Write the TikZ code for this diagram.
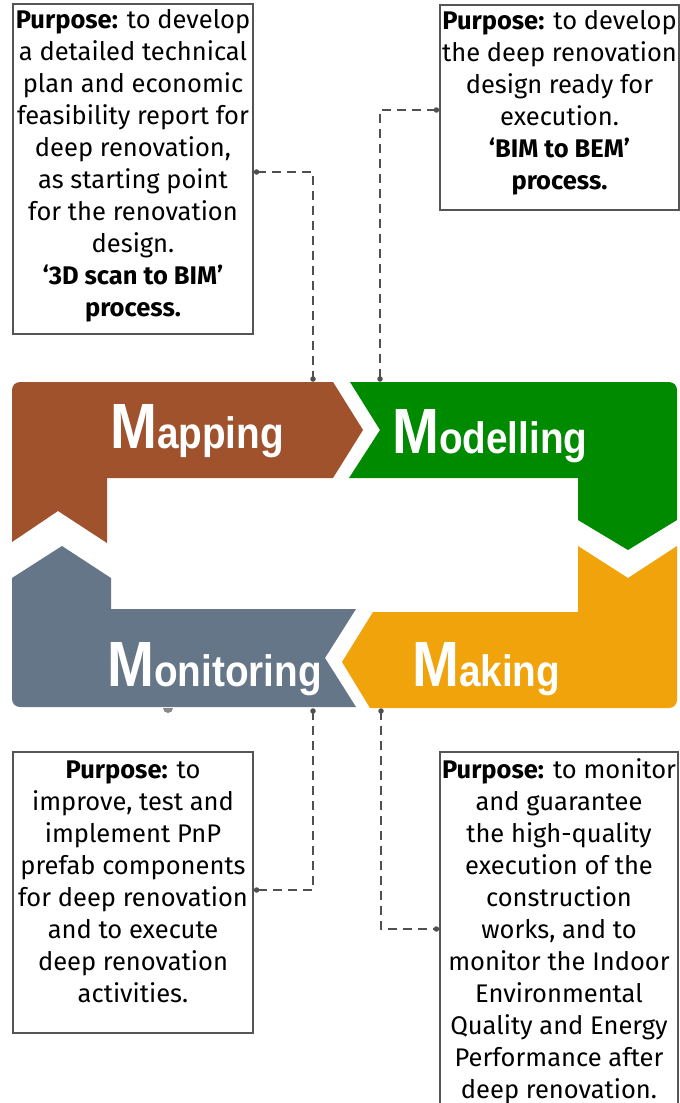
\documentclass[tikz,border=0pt]{standalone}
\usepackage{fontspec}
\newfontfamily\boxfont{Fira Sans}
\newfontfamily\bigfont{Liberation Sans}
\definecolor{mapc}{HTML}{A0522D}
\definecolor{modc}{HTML}{008A00}
\definecolor{makc}{HTML}{F0A30A}
\definecolor{monc}{HTML}{647687}
\definecolor{boxgray}{HTML}{555555}
\definecolor{conngray}{HTML}{505050}
\definecolor{bumpgray}{HTML}{8A8A8A}
\newcommand{\bigword}[2]{\scalebox{0.88}[1]{{\fontsize{64}{64}\selectfont #1}{\fontsize{44}{44}\selectfont #2}}}
\begin{document}
\begin{tikzpicture}[x=1pt,y=-1pt,
  pbox/.style={draw=boxgray, line width=1.2pt, fill=white, inner sep=0pt},
  ptext/.style={font=\boxfont\fontsize{25.5}{32}\selectfont, align=center, inner sep=0pt, text=black},
  conn/.style={draw=conngray, line width=1.2pt, dash pattern=on 9pt off 6pt},
  cdot/.style={circle, fill=conngray, inner sep=0pt, minimum size=5.5pt},
  biglabel/.style={font=\bigfont\bfseries, text=white, inner sep=0pt, anchor=base west}]
\useasboundingbox (0,0) rectangle (680,1103);
\clip (0,0) rectangle (680,1103);

% small grey bumps
\fill[bumpgray] (196,383) arc[start angle=180, end angle=0, radius=4];

% Mapping
\fill[mapc] (12,470) [rounded corners=8pt] -- (12,382) -- (200,382) [sharp corners] -- (333,382) -- (363,430) -- (333,478) -- (107,478) -- (107,543) -- (58,511) -- (12,542) -- cycle;
% Modelling
\fill[modc] (350,382) -- (640,382) [rounded corners=8pt] -- (677,382) -- (677,450) [sharp corners] -- (677,520) -- (628,550) -- (578,520) -- (578,478) -- (349,478) -- (380,430) -- cycle;
% Making
\fill[makc] (578,546) -- (628,578) -- (677,546) -- (677,650) [rounded corners=8pt] -- (677,708) -- (600,708) [sharp corners] -- (370,708) -- (342,662) -- (373,612) -- (578,612) -- cycle;
% Monitoring
\fill[monc] (12,578) -- (62,546) -- (111,578) -- (111,609) -- (356,609) -- (325,658) -- (356,707) -- (100,707) [rounded corners=8pt] -- (12,707) -- (12,650) [sharp corners] -- cycle;

\fill[bumpgray!90!monc] (163,708) arc[start angle=180, end angle=0, radius=5];

\node[biglabel] (lmap) at (110,448) {\bigword{M}{apping}};
\node[biglabel] (lmod) at (392,453) {\bigword{M}{odelling}};
\node[biglabel] (lmon) at (107,686) {\bigword{M}{onitoring}};
\node[biglabel] (lmak) at (412,686) {\bigword{M}{aking}};

% boxes
\node[pbox, minimum width=240pt, minimum height=330pt] (b1) at (133,169) {};
\node[pbox, minimum width=239pt, minimum height=205pt] (b2) at (559.5,107.5) {};
\node[pbox, minimum width=240pt, minimum height=281pt] (b3) at (133,892.5) {};
\node[pbox, minimum width=238pt, minimum height=354pt] (b4) at (559,929) {};

\node[ptext] (t1) at (133,166) {\textbf{Purpose:} to develop\\a detailed technical\\plan and economic\\feasibility report for\\deep renovation,\\as starting point\\for the renovation\\design.\\\textbf{‘3D scan to BIM’}\\\textbf{process.}};
\node[ptext] (t2) at (559.5,103) {\textbf{Purpose:} to develop\\the deep renovation\\design ready for\\execution.\\\textbf{‘BIM to BEM’}\\\textbf{process.}};
\node[ptext] (t3) at (133,882) {\textbf{Purpose:} to\\improve, test and\\implement PnP\\prefab components\\for deep renovation\\and to execute\\deep renovation\\activities.};
\node[ptext] (t4) at (559,931) {\textbf{Purpose:} to monitor\\and guarantee\\the high-quality\\execution of the\\construction\\works, and to\\monitor the Indoor\\Environmental\\Quality and Energy\\Performance after\\deep renovation.};

% anchor coordinates on the shapes
\coordinate (mapIn) at (313,379);
\coordinate (modIn) at (380,379);
\coordinate (monOut) at (313,711);
\coordinate (makOut) at (381,711);

% connectors
\draw[conn] ([shift={(3pt,-3pt)}]b1.east) -| (mapIn);
\draw[conn] ([shift={(-3pt,-2.5pt)}]b2.west) -| (modIn);
\draw[conn] (monOut) |- ([shift={(3pt,2.5pt)}]b3.east);
\draw[conn] (makOut) |- ([shift={(-3pt,0pt)}]b4.west);

\node[cdot] at ([shift={(3pt,-3pt)}]b1.east) {};
\node[cdot] at (mapIn) {};
\node[cdot] at ([shift={(-3pt,-2.5pt)}]b2.west) {};
\node[cdot] at (modIn) {};
\node[cdot] at ([shift={(3pt,2.5pt)}]b3.east) {};
\node[cdot] at (monOut) {};
\node[cdot] at ([shift={(-3pt,0pt)}]b4.west) {};
\node[cdot] at (makOut) {};
\end{tikzpicture}
\end{document}
